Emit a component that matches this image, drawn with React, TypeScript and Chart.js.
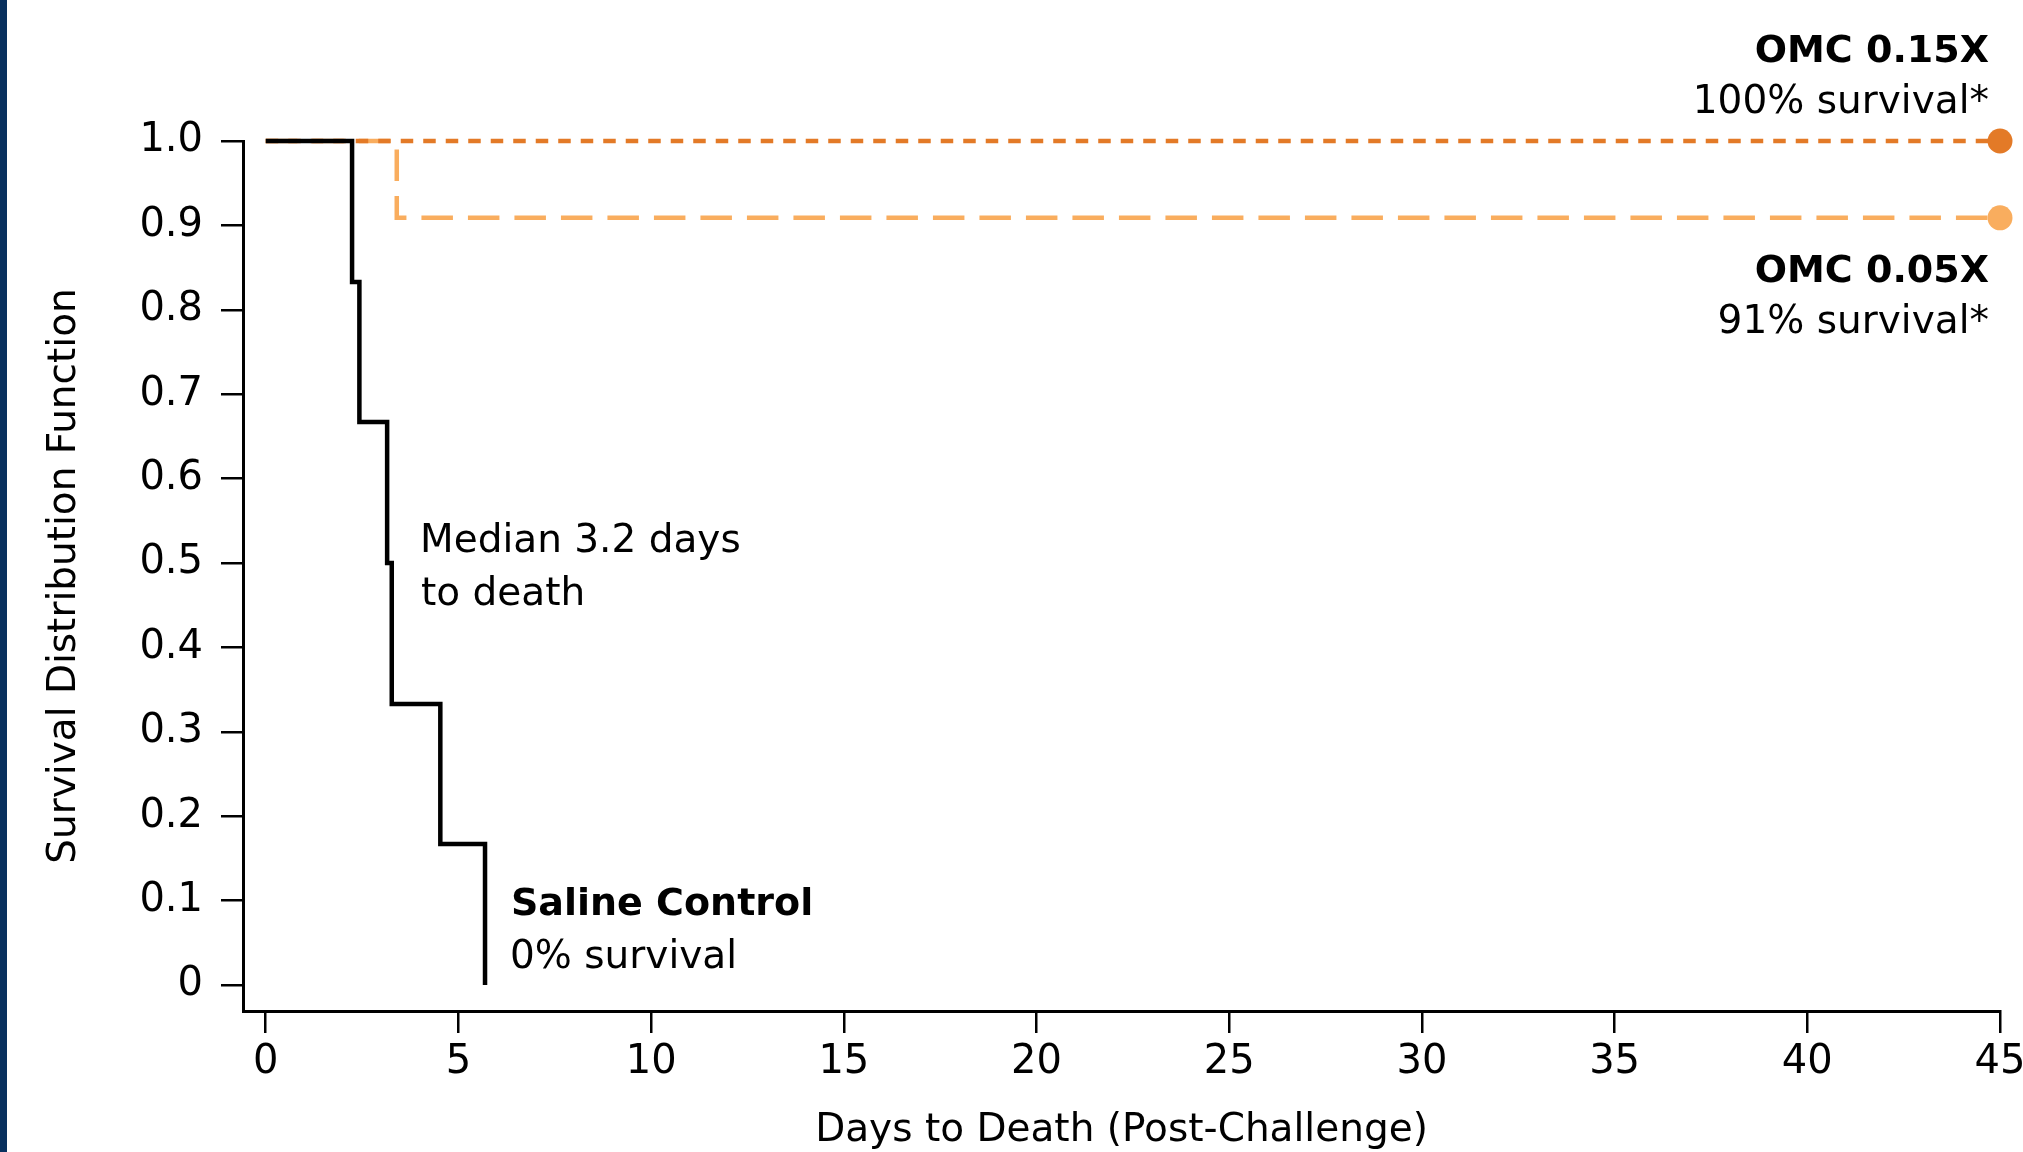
import React, { useEffect, useRef } from "react";
import { Chart, registerables } from "chart.js";

Chart.register(...registerables);

// ---- Data ----
const salineDays = [0, 2.24, 2.43, 3.15, 3.27, 4.53, 5.69];
const salineSurvival = [1, 0.833, 0.667, 0.5, 0.333, 0.167, 0];

const omc15Days = [0, 45];
const omc15Survival = [1, 1];

const omc05Days = [0, 3.4, 45];
const omc05Survival = [1, 0.909, 0.909];

const xTickValues = [0, 5, 10, 15, 20, 25, 30, 35, 40, 45];
const yTickValues = [0, 0.1, 0.2, 0.3, 0.4, 0.5, 0.6, 0.7, 0.8, 0.9, 1.0];

const seriesNames = ["Saline Control", "OMC 0.15X", "OMC 0.05X"];
const xTitle = "Days to Death (Post-Challenge)";
const yTitle = "Survival Distribution Function";

// ---- Styles ----
const FONT = '"DejaVu Sans", "Liberation Sans", Arial, sans-serif';
const BLACK = "#000000";
const DARK_ORANGE = "#e37a27";
const LIGHT_ORANGE = "#f9ad5e";
const NAVY = "#08305e";

const toPoints = (xs: number[], ys: number[]) => xs.map((x, i) => ({ x, y: ys[i] }));

const endMarker = (r: number) => (ctx: any) =>
  ctx.dataIndex === ctx.dataset.data.length - 1 ? r : 0;

const decorPlugin = {
  id: "decor",
  beforeDraw(chart: any) {
    const ctx = chart.ctx;
    ctx.save();
    ctx.fillStyle = "#ffffff";
    ctx.fillRect(0, 0, chart.width, chart.height);
    ctx.fillStyle = NAVY;
    ctx.fillRect(0, 0, 7, chart.height);
    ctx.restore();
  },
  afterDraw(chart: any) {
    const ctx = chart.ctx;
    ctx.save();
    ctx.fillStyle = "#000000";
    ctx.textBaseline = "alphabetic";
    const draw = (text: string, x: number, y: number, bold: boolean, align: CanvasTextAlign) => {
      ctx.font = `${bold ? "bold 38px" : "39px"} ${FONT}`;
      ctx.textAlign = align;
      ctx.fillText(text, x, y);
    };
    draw(seriesNames[1], 1989, 62, true, "right");
    draw("100% survival*", 1989, 113, false, "right");
    draw(seriesNames[2], 1989, 282, true, "right");
    draw("91% survival*", 1989, 333, false, "right");
    draw("Median 3.2 days", 420, 552, false, "left");
    draw("to death", 421, 605, false, "left");
    draw(seriesNames[0], 511, 915, true, "left");
    draw("0% survival", 510, 968, false, "left");
    ctx.restore();
  },
};

export default function App() {
  const canvasRef = useRef<HTMLCanvasElement | null>(null);

  useEffect(() => {
    const canvas = canvasRef.current;
    if (!canvas) return;
    const chart = new Chart(canvas, {
      type: "line",
      data: {
        datasets: [
          {
            label: seriesNames[0],
            data: toPoints(salineDays, salineSurvival),
            borderColor: BLACK,
            borderWidth: 4.5,
            stepped: true,
            pointRadius: 0,
            borderJoinStyle: "miter",
            borderCapStyle: "butt",
            clip: false,
          } as any,
          {
            label: seriesNames[1],
            data: toPoints(omc15Days, omc15Survival),
            borderColor: DARK_ORANGE,
            backgroundColor: DARK_ORANGE,
            borderWidth: 4.5,
            borderDash: [12.5, 10],
            stepped: true,
            pointRadius: endMarker(12.5),
            pointBorderWidth: 0,
            pointBackgroundColor: DARK_ORANGE,
            borderJoinStyle: "miter",
            borderCapStyle: "butt",
            clip: false,
          } as any,
          {
            label: seriesNames[2],
            data: toPoints(omc05Days, omc05Survival),
            borderColor: LIGHT_ORANGE,
            backgroundColor: LIGHT_ORANGE,
            borderWidth: 4.5,
            borderDash: [31.5, 15],
            stepped: true,
            pointRadius: endMarker(12.5),
            pointBorderWidth: 0,
            pointBackgroundColor: LIGHT_ORANGE,
            borderJoinStyle: "miter",
            borderCapStyle: "butt",
            clip: false,
          } as any,
        ],
      },
      options: {
        responsive: false,
        maintainAspectRatio: false,
        animation: false,
        devicePixelRatio: 1,
        events: [],
        layout: { padding: { top: 141, right: 23, left: 0, bottom: 0 } },
        plugins: {
          legend: { display: false },
          tooltip: { enabled: false },
          title: { display: false },
        },
        scales: {
          x: {
            type: "linear",
            min: -0.59,
            max: 45,
            afterBuildTicks: (scale: any) => {
              scale.ticks = xTickValues.map((v) => ({ value: v }));
            },
            afterFit: (scale: any) => {
              scale.height = 141;
              scale.paddingLeft = 0;
              scale.paddingRight = 0;
            },
            ticks: {
              autoSkip: false,
              maxRotation: 0,
              padding: 6,
              color: "#000",
              font: { family: FONT, size: 40 },
              callback: (v: any) => String(v),
            },
            grid: {
              drawOnChartArea: false,
              drawTicks: true,
              tickLength: 22,
              tickWidth: 2.5,
              tickColor: "#000",
              color: "#000",
              lineWidth: 2.5,
            },
            border: { display: true, color: "#000", width: 3 },
            title: {
              display: true,
              text: xTitle,
              color: "#000",
              font: { family: FONT, size: 39, lineHeight: 1 },
              padding: { top: 0, bottom: 2 },
            },
          },
          y: {
            type: "linear",
            min: -0.0308,
            max: 1.0,
            afterBuildTicks: (scale: any) => {
              scale.ticks = yTickValues.map((v) => ({ value: v }));
            },
            afterFit: (scale: any) => {
              scale.width = 243;
              scale.paddingTop = 0;
              scale.paddingBottom = 0;
            },
            ticks: {
              autoSkip: false,
              padding: 18,
              color: "#000",
              font: { family: FONT, size: 40 },
              callback: (v: any) => (Number(v) === 0 ? "0" : Number(v).toFixed(1)),
            },
            grid: {
              drawOnChartArea: false,
              drawTicks: true,
              tickLength: 22,
              tickWidth: 2.5,
              tickColor: "#000",
              color: "#000",
              lineWidth: 2.5,
            },
            border: { display: true, color: "#000", width: 3 },
            title: {
              display: true,
              text: yTitle,
              color: "#000",
              font: { family: FONT, size: 39, lineHeight: 1 },
              padding: { top: 45, bottom: 0 },
            },
          },
        },
      } as any,
      plugins: [decorPlugin],
    });
    return () => chart.destroy();
  }, []);

  return (
    <div style={{ position: "fixed", left: 0, top: 0, width: 2023, height: 1152, background: "#fff" }}>
      <canvas ref={canvasRef} width={2023} height={1152} style={{ display: "block" }} />
    </div>
  );
}
